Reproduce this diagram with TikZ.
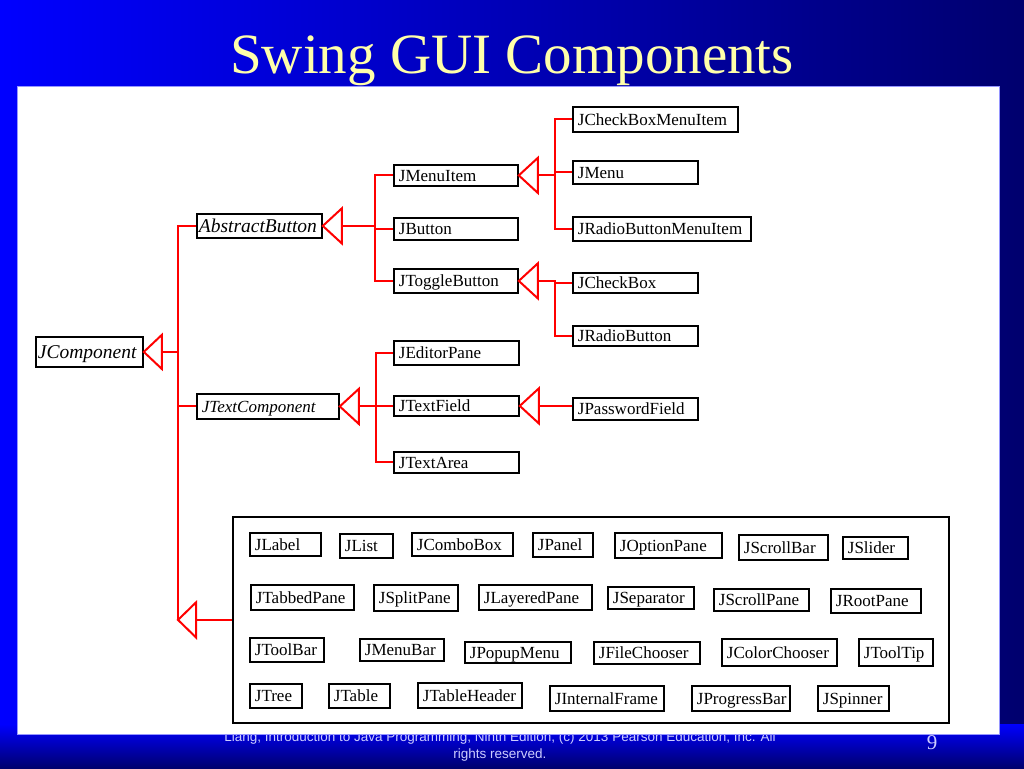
\documentclass[tikz,border=0pt]{standalone}
\usepackage{fontspec}
\setmainfont{Liberation Serif}
\newfontfamily\footfont{Liberation Sans}
\definecolor{slideblue}{RGB}{0,0,255}
\definecolor{slidemid}{RGB}{0,0,205}
\definecolor{slidenavy}{RGB}{0,0,110}
\definecolor{titleyellow}{RGB}{255,255,170}
\definecolor{footgrey}{RGB}{205,205,255}
\definecolor{panelrim}{RGB}{150,150,255}

\begin{document}
\begin{tikzpicture}[
  x=1pt, y=-1pt,
  cls/.style={draw, fill=white, line width=1.8pt, anchor=north west, inner xsep=5pt, inner ysep=0pt, align=left, text height=11.5pt, text depth=0pt, font=\fontsize{17}{20}\selectfont, execute at begin node={\hyphenpenalty=10000\relax}},
  italic/.style={cls, font=\fontsize{17}{20}\selectfont\itshape},
  abstr/.style={cls, inner xsep=2pt, text height=13pt, font=\fontsize{19.5}{22}\selectfont\itshape},
  rel/.style={draw=red, line width=2pt},
  gen/.style={rel, fill=white, line join=miter}
]
\useasboundingbox (0,0) rectangle (1024,768);

% slide background
\shade[left color=slideblue, middle color=slidemid, right color=slidenavy] (0,0) rectangle (1024,768);
\shade[top color=slideblue, bottom color=slidenavy] (0,724) rectangle (1024,768);
\node[font=\footfont\fontsize{13.5}{17}\selectfont, text=footgrey, align=center, inner sep=0pt] (credit) at (500,746)
  {Liang, Introduction to Java Programming, Ninth Edition, (c) 2013 Pearson Education, Inc. All\\rights reserved.};
\node[font=\fontsize{21}{24}\selectfont, text=footgrey, inner sep=0pt] (pageno) at (932,743) {9};
\filldraw[fill=white, draw=panelrim, line width=0.8pt] (17,86) rectangle (999,734);
\node[anchor=base, text=titleyellow, font=\fontsize{57}{60}\selectfont, inner sep=0pt] (heading) at (512,73) {Swing GUI Components};

% JComponent and its abstract subclasses
\node[abstr, text width=103pt, minimum height=30pt] (comp) at (35,336) {JComponent};
\node[abstr, text width=121pt, minimum height=24pt] (abstractbtn) at (196,213) {AbstractButton};
\node[italic, text width=132pt, minimum height=25pt] (textcomp) at (196,393) {JTextComponent};

% buttons
\node[cls, text width=114pt, minimum height=21pt] (menuitem) at (393,164) {JMenuItem};
\node[cls, text width=114pt, minimum height=22pt] (button) at (393,217) {JButton};
\node[cls, text width=114pt, minimum height=24pt] (toggle) at (393,268) {JToggleButton};
\node[cls, text width=155pt, minimum height=25pt] (cbmenuitem) at (572,106) {JCheckBoxMenuItem};
\node[cls, text width=115pt, minimum height=23pt] (menu) at (572,160) {JMenu};
\node[cls, text width=168pt, minimum height=24pt] (rbmenuitem) at (572,216) {JRadioButtonMenuItem};
\node[cls, text width=115pt, minimum height=20pt] (checkbox) at (572,272) {JCheckBox};
\node[cls, text width=115pt, minimum height=20pt] (radio) at (572,325) {JRadioButton};

% text components
\node[cls, text width=115pt, minimum height=24pt] (editor) at (393,340) {JEditorPane};
\node[cls, text width=115pt, minimum height=20pt] (textfield) at (393,395) {JTextField};
\node[cls, text width=115pt, minimum height=21pt] (textarea) at (393,451) {JTextArea};
\node[cls, text width=115pt, minimum height=22pt] (password) at (572,397) {JPasswordField};

% other direct subclasses
\node[draw, fill=white, line width=1.8pt, anchor=north west, minimum width=716pt, minimum height=206pt, inner sep=0pt] (group) at (232,516) {};
\node[cls, text width=61pt, minimum height=23pt] (label) at (249,532) {JLabel};
\node[cls, text width=43pt, minimum height=24pt] (list) at (339,533) {JList};
\node[cls, text width=91pt, minimum height=23pt] (combo) at (411,532) {JComboBox};
\node[cls, text width=50pt, minimum height=24pt] (panel) at (532,532) {JPanel};
\node[cls, text width=97pt, minimum height=25pt] (option) at (614,532) {JOptionPane};
\node[cls, text width=79pt, minimum height=25pt] (scrollbar) at (738,534) {JScrollBar};
\node[cls, text width=55pt, minimum height=22pt] (slider) at (842,536) {JSlider};

\node[cls, text width=93pt, minimum height=25pt] (tabbed) at (250,584) {JTabbedPane};
\node[cls, text width=74pt, minimum height=26pt] (split) at (373,584) {JSplitPane};
\node[cls, text width=103pt, minimum height=25pt] (layered) at (478,584) {JLayeredPane};
\node[cls, text width=76pt, minimum height=22pt] (separator) at (607,586) {JSeparator};
\node[cls, text width=85pt, minimum height=22pt] (scrollpane) at (713,588) {JScrollPane};
\node[cls, text width=80pt, minimum height=24pt] (rootpane) at (830,588) {JRootPane};

\node[cls, text width=64pt, minimum height=24pt] (toolbar) at (249,637) {JToolBar};
\node[cls, text width=74pt, minimum height=22pt] (menubar) at (359,638) {JMenuBar};
\node[cls, text width=96pt, minimum height=21pt] (popup) at (464,641) {JPopupMenu};
\node[cls, text width=96pt, minimum height=22pt] (filechooser) at (593,641) {JFileChooser};
\node[cls, text width=105pt, minimum height=27pt] (colorchooser) at (721,638) {JColorChooser};
\node[cls, text width=64pt, minimum height=27pt] (tooltip) at (858,638) {JToolTip};

\node[cls, text width=42pt, minimum height=24pt] (tree) at (249,683) {JTree};
\node[cls, text width=51pt, minimum height=24pt] (table) at (328,683) {JTable};
\node[cls, text width=94pt, minimum height=25pt] (tableheader) at (417,682) {JTableHeader};
\node[cls, text width=104pt, minimum height=25pt] (internal) at (549,685) {JInternalFrame};
\node[cls, text width=88pt, minimum height=25pt] (progress) at (691,685) {JProgressBar};
\node[cls, text width=61pt, minimum height=25pt] (spinner) at (817,685) {JSpinner};

% trunks of the inheritance lines
\coordinate (ctrunk) at (178,0);
\coordinate (btrunk) at (375,0);
\coordinate (ttrunk) at (376,0);
\coordinate (mtrunk) at (555,0);

% JComponent
\draw[rel] (comp.east) ++(18,0) -- (ctrunk |- comp.east);
\draw[rel] (abstractbtn.west) -| (ctrunk |- group.west);
\draw[rel] (textcomp.west) -- (ctrunk |- textcomp.west);
\draw[rel] (ctrunk |- group.west) ++(18,0) -- (group.west);
\draw[gen] (comp.east) -- ++(18,17) -- ++(0,-34) -- cycle;
\draw[gen] (ctrunk |- group.west) -- ++(18,-17.5) -- ++(0,35) -- cycle;

% AbstractButton
\draw[rel] (abstractbtn.east) ++(19,0) -- (btrunk |- abstractbtn.east);
\draw[rel] (menuitem.west) -| (btrunk |- toggle.west) -- (toggle.west);
\draw[rel] (button.west) -- (btrunk |- button.west);
\draw[gen] (abstractbtn.east) -- ++(19,17.5) -- ++(0,-35) -- cycle;

% JMenuItem
\draw[rel] (menuitem.east) ++(19,0) -- (mtrunk |- menuitem.east);
\draw[rel] (cbmenuitem.west) -| (mtrunk |- rbmenuitem.west) -- (rbmenuitem.west);
\draw[rel] (menu.west) -- (mtrunk |- menu.west);
\draw[gen] (menuitem.east) -- ++(19,17.5) -- ++(0,-35) -- cycle;

% JToggleButton
\draw[rel] (toggle.east) ++(19,0) -| (mtrunk |- radio.west) -- (radio.west);
\draw[rel] (checkbox.west) -- (mtrunk |- checkbox.west);
\draw[gen] (toggle.east) -- ++(19,17.5) -- ++(0,-35) -- cycle;

% JTextComponent
\draw[rel] (textcomp.east) ++(19,0) -- (ttrunk |- textcomp.east);
\draw[rel] (editor.west) -| (ttrunk |- textarea.west) -- (textarea.west);
\draw[rel] (textfield.west) -- (ttrunk |- textfield.west);
\draw[gen] (textcomp.east) -- ++(19,17.5) -- ++(0,-35) -- cycle;

% JTextField
\draw[rel] (textfield.east) ++(19,0) -- (password.west |- textfield.east);
\draw[gen] (textfield.east) -- ++(19,17.5) -- ++(0,-35) -- cycle;

\end{tikzpicture}
\end{document}
